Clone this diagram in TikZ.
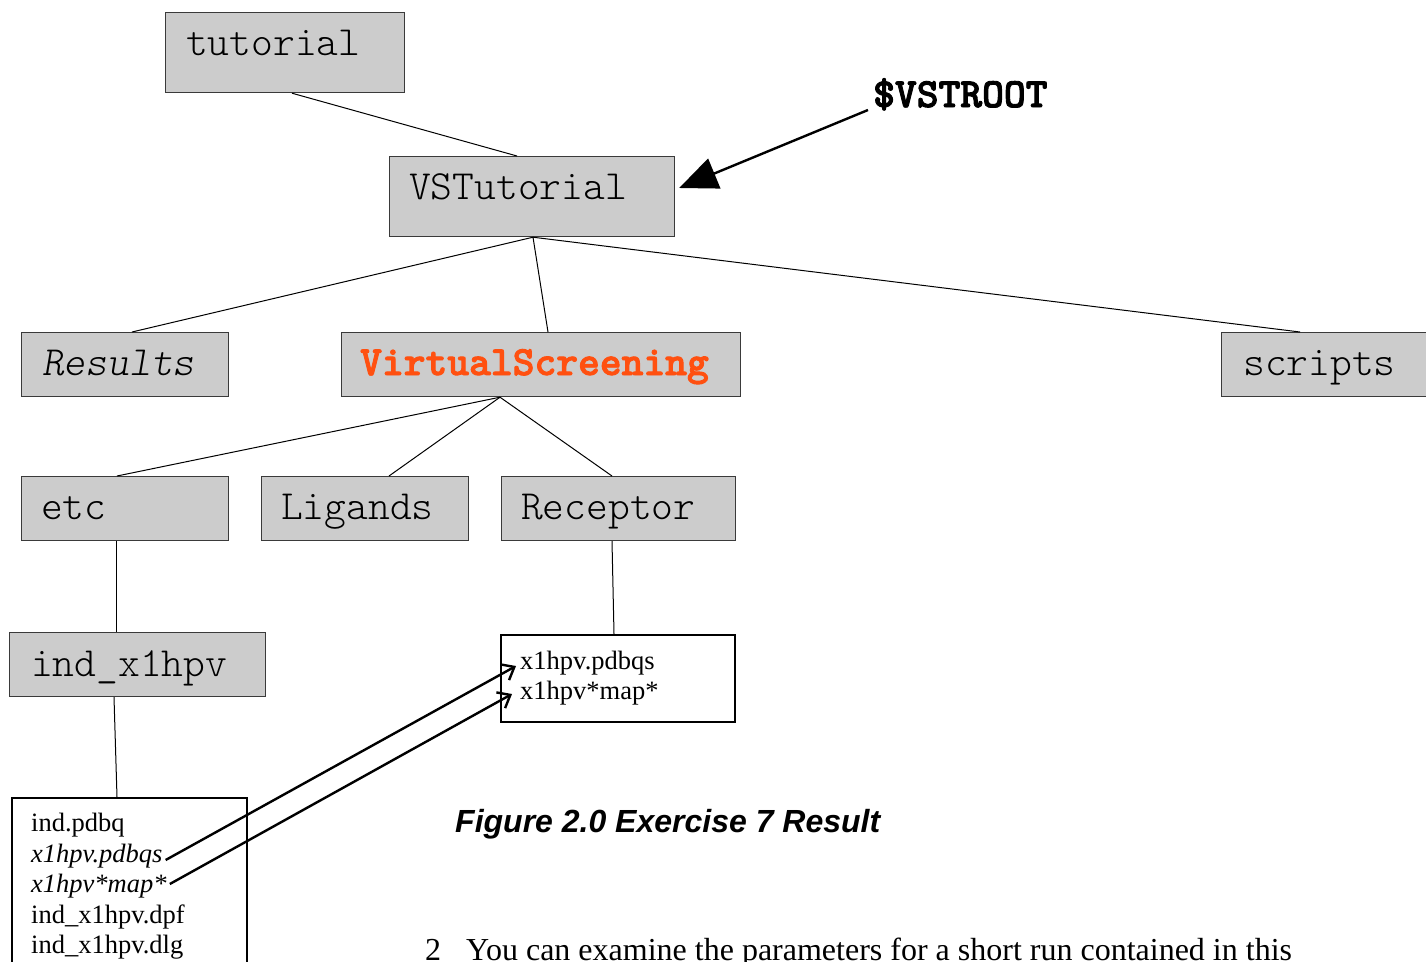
\documentclass[tikz,border=0pt]{standalone}
\usepackage{fontspec}
\setmainfont{Liberation Serif}
\newfontfamily\capfont{Liberation Sans}
\newfontfamily\monolight{lmmonolt10-regular.otf}[ItalicFont=lmmonolt10-oblique.otf]
\newfontfamily\monoheavy{lmmonolt10-bold.otf}[FakeBold=2.2]
\usetikzlibrary{arrows.meta,calc}
\definecolor{boxgray}{HTML}{CCCCCC}
\definecolor{boxline}{HTML}{3A3A3A}
\definecolor{vsorange}{HTML}{FF5010}
\newcommand{\dirfont}{\monolight\fontsize{41.5}{44}\selectfont}
\newcommand{\dirboldfont}{\monoheavy\fontsize{41.5}{44}\selectfont}
\tikzset{
  dirbox/.style={draw=boxline,fill=boxgray,line width=1.2pt,inner sep=0pt,anchor=north west},
  filebox/.style={draw=black,fill=white,line width=1.6pt,inner sep=0pt,anchor=north west},
  dirname/.style={anchor=base west,inner sep=0pt,font=\dirfont},
  filename/.style={anchor=base west,inner sep=0pt,font=\fontsize{26.5}{30}\selectfont},
  tree/.style={draw=black,line width=1.0pt},
  link/.style={draw=black,line width=2.4pt,-{Straight Barb[length=11pt,width=18pt,line width=2.4pt]}},
}
\begin{document}
\begin{tikzpicture}[x=1pt,y=-1pt]
\useasboundingbox (0,0) rectangle (1426,961);
% directory boxes
\node[dirbox,minimum width=239pt,minimum height=80pt] (tut) at (165,12) {};
\node[dirbox,minimum width=285pt,minimum height=80pt] (vst) at (389,156) {};
\node[dirbox,minimum width=207pt,minimum height=64pt] (res) at (21,332) {};
\node[dirbox,minimum width=399pt,minimum height=64pt] (vs) at (341,332) {};
\node[dirbox,minimum width=215pt,minimum height=64pt] (scr) at (1221,332) {};
\node[dirbox,minimum width=207pt,minimum height=64pt] (etc) at (21,476) {};
\node[dirbox,minimum width=207pt,minimum height=64pt] (lig) at (261,476) {};
\node[dirbox,minimum width=234pt,minimum height=64pt] (rec) at (501,476) {};
\node[dirbox,minimum width=256pt,minimum height=64pt] (ind) at (9,632) {};
% file boxes
\node[filebox,minimum width=234pt,minimum height=87pt] (recf) at (500,634) {};
\node[filebox,minimum width=235pt,minimum height=200pt] (indf) at (11,797) {};
% directory names
\node[dirname] (tutt) at (186,55) {tutorial};
\node[dirname] (vstt) at (409,199) {VSTutorial};
\node[dirname,font=\dirfont\itshape] (rest) at (42,375) {Results};
\node[dirname,font=\dirboldfont,text=vsorange] (vst2) at (360,375) {VirtualScreening};
\node[dirname] (scrt) at (1243,375) {scripts};
\node[dirname] (etct) at (41,519) {etc};
\node[dirname] (ligt) at (281,519) {Ligands};
\node[dirname] (rect) at (521,519) {Receptor};
\node[dirname] (indt) at (31,676) {ind\_x1hpv};
% file names
\node[filename] (rf1) at (520,669) {x1hpv.pdbqs};
\node[filename] (rf2) at (520,699) {x1hpv*map*};
\node[filename] (if1) at (31,831) {ind.pdbq};
\node[filename,font=\itshape\fontsize{26.5}{30}\selectfont] (if2) at (31,862) {x1hpv.pdbqs};
\node[filename,font=\itshape\fontsize{26.5}{30}\selectfont] (if3) at (31,892) {x1hpv*map*};
\node[filename] (if4) at (31,923) {ind\_x1hpv.dpf};
\node[filename] (if5) at (31,953) {ind\_x1hpv.dlg};
% root label
\node[dirname,font=\dirboldfont] (root) at (873,107) {\$VSTROOT};
% tree connectors
\draw[tree] ($(tut.south west)+(127,0)$) -- ($(vst.north west)+(128,0)$);
\draw[tree] ($(vst.south west)+(144,0)$) -- ($(res.north west)+(111,0)$);
\draw[tree] ($(vst.south west)+(144,0)$) -- ($(vs.north west)+(207,0)$);
\draw[tree] ($(vst.south west)+(144,0)$) -- ($(scr.north west)+(79,0)$);
\draw[tree] ($(vs.south west)+(159,0)$) -- ($(etc.north west)+(96,0)$);
\draw[tree] ($(vs.south west)+(159,0)$) -- ($(lig.north west)+(128,0)$);
\draw[tree] ($(vs.south west)+(159,0)$) -- ($(rec.north west)+(111,0)$);
\draw[tree] ($(etc.south west)+(95.5,0)$) -- ($(ind.north west)+(107.5,0)$);
\draw[tree] ($(rec.south west)+(111,0)$) -- ($(recf.north west)+(114,0)$);
\draw[tree] ($(ind.south west)+(105,0)$) -- ($(indf.north west)+(106,0)$);
% root pointer
\draw[line width=2.4pt,-{Triangle[length=38pt,width=32pt]}] ($(root.base west)+(-5,3)$) -- ($(vst.north east)+(4,32)$);
% links between copies
\draw[link] ($(if2.base east)+(3,-2)$) -- ($(rf1.base west)+(-4,-3)$);
\draw[link] ($(if3.base east)+(3,-8)$) -- ($(rf2.base west)+(-8,-5)$);
% caption and following text
\node[anchor=base west,inner sep=0pt,font=\capfont\bfseries\itshape\fontsize{32}{36}\selectfont] (cap) at (455,832) {Figure 2.0 Exercise 7 Result};
\node[anchor=base west,inner sep=0pt,font=\fontsize{32}{36}\selectfont] (num) at (425,960) {2};
\node[anchor=base west,inner sep=0pt,font=\fontsize{32}{36}\selectfont] (body) at (466,960) {You can examine the parameters for a short run contained in this};
\end{tikzpicture}
\end{document}
